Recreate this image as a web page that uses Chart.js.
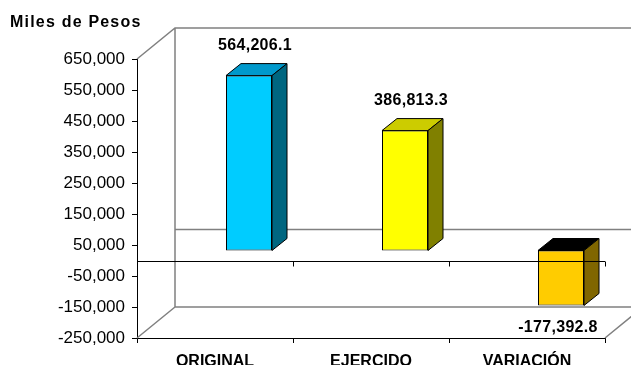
<!DOCTYPE html>
<html lang="es">
<head>
<meta charset="utf-8">
<script src="https://cdn.jsdelivr.net/npm/chart.js@4/dist/chart.umd.min.js"></script>
<style>
  html, body { margin: 0; padding: 0; background: #fff; overflow: hidden; }
  #wrap { width: 631px; height: 365px; position: relative; }
</style>
</head>
<body>
<div id="wrap"><canvas id="grafica"></canvas></div>
<script>
/* Datos */
const categorias = ['ORIGINAL', 'EJERCIDO', 'VARIACIÓN'];
const valores = [564206.1, 386813.3, -177392.8];
const etiquetas = ['564,206.1', '386,813.3', '-177,392.8'];
const colorFrente = ['#00CCFF', '#FFFF00', '#FFCC00'];
const colorTapa = ['#0099CC', '#CCCC00', '#000000'];
const colorLado = ['#006680', '#808000', '#806600'];
const ejeMin = -250000;
const ejeMax = 650000;
const ejePaso = 100000;

// desplazamientos del falso 3D
const FONDO = { dx: 38, dy: -31 };
const BARRA = { dx: 34, dy: -10 };
const PROF = { dx: 15, dy: -12 };
const FUENTE = '"Liberation Sans", Arial, sans-serif';

function poligono(ctx, pts, relleno) {
    ctx.beginPath();
    ctx.moveTo(pts[0][0], pts[0][1]);
    pts.slice(1).forEach(p => ctx.lineTo(p[0], p[1]));
    ctx.closePath();
    ctx.fillStyle = relleno;
    ctx.fill();
    ctx.stroke();
}

const efecto3D = {
    id: 'efecto3D',
    beforeDraw(chart) {
        const ctx = chart.ctx;
        ctx.save();
        ctx.letterSpacing = '1.2px';
        ctx.fillStyle = '#000';
        ctx.font = 'bold 16px ' + FUENTE;
        ctx.textBaseline = 'alphabetic';
        ctx.textAlign = 'left';
        ctx.fillText('Miles de Pesos', 10, 27);
        ctx.restore();
        ctx.letterSpacing = '0px';
    },
    beforeDatasetsDraw(chart) {
        const { ctx, chartArea: a, scales: { y } } = chart;
        const y0 = y.getPixelForValue(0);
        const bx = a.left + FONDO.dx;
        const W = chart.width;

        // paredes del fondo
        ctx.save();
        ctx.strokeStyle = '#808080';
        ctx.lineWidth = 1.5;
        ctx.beginPath();
        ctx.moveTo(a.left, a.top);
        ctx.lineTo(bx, a.top + FONDO.dy);
        ctx.lineTo(W, a.top + FONDO.dy);
        ctx.moveTo(bx, a.top + FONDO.dy);
        ctx.lineTo(bx, a.bottom + FONDO.dy);
        ctx.lineTo(W, a.bottom + FONDO.dy);
        ctx.moveTo(a.left, a.bottom);
        ctx.lineTo(bx, a.bottom + FONDO.dy);
        ctx.moveTo(a.right, a.bottom);
        ctx.lineTo(a.right + FONDO.dx, a.bottom + FONDO.dy);
        ctx.moveTo(bx, y0 + FONDO.dy);
        ctx.lineTo(W, y0 + FONDO.dy);
        ctx.stroke();
        ctx.restore();

        // las barras se dibujan en un plano desplazado
        ctx.save();
        ctx.translate(BARRA.dx, BARRA.dy);
    },
    afterDatasetsDraw(chart) {
        const { ctx, chartArea: a, scales: { x, y } } = chart;
        const meta = chart.getDatasetMeta(0);

        ctx.lineWidth = 1;
        ctx.strokeStyle = '#000';
        meta.data.forEach((bar, i) => {
            const p = bar.getProps(['x', 'y', 'base', 'width'], true);
            const L = p.x - p.width / 2;
            const R = p.x + p.width / 2;
            const arriba = Math.min(p.y, p.base);
            const abajo = Math.max(p.y, p.base);
            poligono(ctx, [[L, arriba], [L + PROF.dx, arriba + PROF.dy], [R + PROF.dx, arriba + PROF.dy], [R, arriba]], colorTapa[i]);
            poligono(ctx, [[R, arriba], [R + PROF.dx, arriba + PROF.dy], [R + PROF.dx, abajo + PROF.dy], [R, abajo]], colorLado[i]);
        });
        ctx.restore();

        // linea de cero frontal
        const y0 = Math.round(y.getPixelForValue(0)) + 0.5;
        ctx.save();
        ctx.strokeStyle = '#000';
        ctx.lineWidth = 1;
        ctx.beginPath();
        ctx.moveTo(a.left, y0);
        ctx.lineTo(a.right, y0);
        for (let i = 1; i <= categorias.length; i++) {
            const xb = Math.round(x.getPixelForValue(i - 0.5)) + 0.5;
            ctx.moveTo(xb, y0);
            ctx.lineTo(xb, y0 + 5);
        }
        ctx.stroke();

        // etiquetas de valor
        ctx.fillStyle = '#000';
        ctx.font = 'bold 16px ' + FUENTE;
        ctx.letterSpacing = '0.3px';
        ctx.textAlign = 'center';
        ctx.textBaseline = 'alphabetic';
        meta.data.forEach((bar, i) => {
            const p = bar.getProps(['x', 'y', 'base'], true);
            if (valores[i] >= 0) {
                ctx.fillText(etiquetas[i], p.x + BARRA.dx + 6, p.y + BARRA.dy - 26);
            } else {
                ctx.fillText(etiquetas[i], p.x + BARRA.dx - 3, p.y + BARRA.dy + 27);
            }
        });
        ctx.restore();
    }
};

new Chart(document.getElementById('grafica'), {
    type: 'bar',
    data: {
        labels: categorias,
        datasets: [{
            data: valores,
            backgroundColor: colorFrente,
            borderColor: '#000',
            borderWidth: 1,
            borderSkipped: false,
            barPercentage: 0.295,
            categoryPercentage: 1,
            clip: false
        }]
    },
    options: {
        responsive: true,
        maintainAspectRatio: false,
        animation: false,
        events: [],
        layout: { padding: { top: 59, right: 26, left: 0, bottom: 0 } },
        plugins: {
            legend: { display: false },
            tooltip: { enabled: false }
        },
        scales: {
            x: {
                offset: true,
                border: { color: '#000', width: 1 },
                grid: { drawOnChartArea: false, tickLength: 5, color: '#000', offset: true },
                ticks: { color: '#000', padding: 9, font: { family: FUENTE, size: 16, weight: 'bold' } },
                afterFit: scale => { scale.height = 27; }
            },
            y: {
                min: ejeMin,
                max: ejeMax,
                border: { color: '#000', width: 1 },
                grid: { drawOnChartArea: false, tickLength: 5, color: '#000' },
                ticks: {
                    stepSize: ejePaso,
                    color: '#000',
                    padding: 7,
                    font: { family: FUENTE, size: 17 },
                    callback: v => v.toLocaleString('en-US')
                },
                afterFit: scale => { scale.width = 137; }
            }
        }
    },
    plugins: [efecto3D]
});
</script>
</body>
</html>
